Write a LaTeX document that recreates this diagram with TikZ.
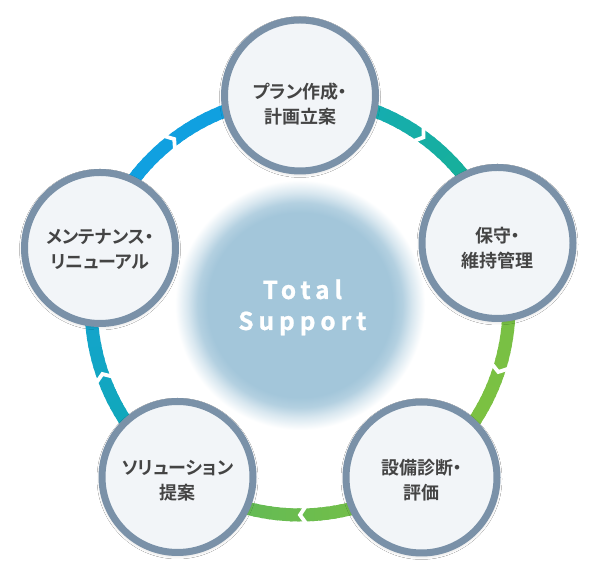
\documentclass[tikz,border=0pt]{standalone}
\usepackage{fontspec}
\newfontfamily\jpb[RawFeature=+palt]{Noto Sans CJK JP Bold}
\newfontfamily\tsf[LetterSpace=20,FakeBold=0.8]{Noto Sans CJK JP Bold}
\usetikzlibrary{shadows.blur}
\definecolor{blobc}{RGB}{163,198,218}
\definecolor{ringline}{RGB}{122,145,168}
\definecolor{stagefill}{RGB}{242,245,248}
\definecolor{txt}{RGB}{68,68,68}
\definecolor{cblue}{RGB}{16,160,224}
\definecolor{cteala}{RGB}{20,172,190}
\definecolor{ctealb}{RGB}{24,176,140}
\definecolor{climea}{RGB}{118,191,70}
\definecolor{climeb}{RGB}{126,194,64}
\definecolor{cgreena}{RGB}{122,193,66}
\definecolor{cgreenb}{RGB}{92,184,92}
\definecolor{ctealc}{RGB}{16,170,176}
\definecolor{cblued}{RGB}{20,162,214}
\pgfdeclareradialshading{blobshade}{\pgfpoint{0bp}{0bp}}{color(0bp)=(blobc); color(18.5bp)=(blobc); color(20.5bp)=(blobc!82!white); color(22.5bp)=(blobc!42!white); color(25bp)=(white); color(50bp)=(white)}
\newcommand\Rr{209}
\newcommand\ringarc[4]{%
  \foreach \k in {0,...,35}{%
    \pgfmathsetmacro\angA{#1+(#2-#1)*\k/36}%
    \pgfmathsetmacro\angB{#1+(#2-#1)*(\k+1.4)/36}%
    \pgfmathtruncatemacro\pmix{round(100*\k/35)}%
    \draw[band, draw=#4!\pmix!#3] ([shift={(\angA:\Rr)}]ring) arc[start angle=\angA, end angle=\angB, radius=\Rr];
  }}
\newcommand\chev[1]{%
  \draw[chevron] ([shift={(#1+1.9:219)}]ring) -- ([shift={(#1:\Rr)}]ring) -- ([shift={(#1+1.9:199)}]ring);}
\tikzset{
  band/.style={line width=13pt},
  chevron/.style={draw=white, line width=3.8pt, miter limit=10},
  stage/.style={circle, draw=ringline, fill=stagefill, line width=7pt, minimum size=151pt, inner sep=0pt,
    blur shadow={shadow xshift=0pt, shadow yshift=-1.5pt, shadow blur radius=5pt, shadow opacity=30}},
  stagetext/.style={align=center, text=txt, font=\jpb\fontsize{18}{25}\selectfont},
  totaltext/.style={anchor=base, text=white, font=\tsf\fontsize{24.5}{30}\selectfont}
}
\begin{document}
\begin{tikzpicture}[x=1pt,y=1pt]
\useasboundingbox (0,0) rectangle (594,580);
\fill[white] (0,0) rectangle (594,580);
\coordinate (ring) at (300,274);
\shade[shading=blobshade] (300,275) circle (125);
% ring arcs
\ringarc{163.8}{90}{cblue}{cblue}
\ringarc{90}{17.7}{cteala}{ctealb}
\ringarc{17.7}{-54.5}{climea}{climeb}
\ringarc{-54.5}{-125.5}{cgreena}{cgreenb}
\ringarc{234.5}{163.8}{ctealc}{cblued}
\chev{127}
\chev{53.8}
\chev{-18.4}
\chev{-90}
\chev{199}
% center text
\node[totaltext, xshift=2.4pt] (total) at (300,281) {Total};
\node[totaltext, xshift=2.4pt] (support) at (300,250) {Support};
% stages
\node[stage] (plan) at (300,484.5) {};
\node[stage] (hoshu) at (497.5,337) {};
\node[stage] (shindan) at (421.5,102.5) {};
\node[stage] (solution) at (177.5,103) {};
\node[stage] (maint) at (100,332) {};
\node[stagetext] (plant) at (300,475.5) {プラン作成・\\計画立案};
\node[stagetext] (hoshut) at (497.5,331.5) {保守・\\維持管理};
\node[stagetext] (shindant) at (421.5,100) {設備診断・\\評価};
\node[stagetext] (solutiont) at (177.5,99.5) {ソリューション\\提案};
\node[stagetext] (maintt) at (100,331) {メンテナンス・\\リニューアル};
\end{tikzpicture}
\end{document}
